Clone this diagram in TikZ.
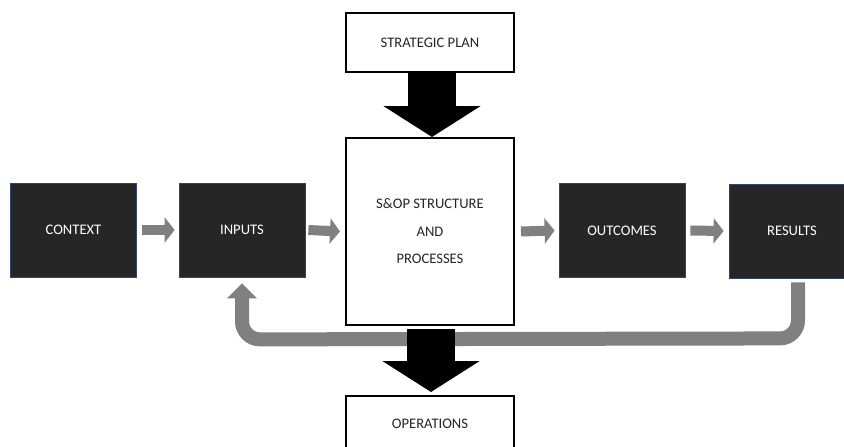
\documentclass[tikz,border=0pt]{standalone}
\usepackage{fontspec}
\setmainfont{Carlito}
\usetikzlibrary{arrows.meta,calc}
\definecolor{boxdark}{HTML}{262626}
\definecolor{boxedge}{HTML}{2F4470}
\definecolor{flowgray}{HTML}{808080}
\begin{document}
\begin{tikzpicture}[x=1pt,y=-1pt,
  every node/.style={font=\fontsize{14.6}{27.5}\selectfont, inner sep=0pt},
  darkbox/.style={rectangle, fill=boxdark, draw=boxedge, line width=0.8pt,
    text=white, minimum width=126pt, minimum height=94pt},
  whitebox/.style={rectangle, fill=white, draw=black, line width=2pt,
    text=black!85, minimum width=168pt, align=center},
  grayarrow/.style={draw=flowgray, line width=10pt,
    -{Triangle[width=25pt,length=10pt]}},
  blackarrow/.style={draw=black, line width=48pt,
    -{Triangle[width=96pt,length=31pt]}},
  feedback/.style={draw=flowgray, line width=14pt, rounded corners=18pt,
    -{Triangle[width=29pt,length=15pt]}}]
\clip (0,0) rectangle (844,447);
\fill[white] (0,0) rectangle (844,447);

% main row of boxes
\node[darkbox] (context)  at (73.5,230) {CONTEXT};
\node[darkbox] (inputs)   at (242,230)  {INPUTS};
\node[whitebox, minimum height=187pt] (sop) at (430,231.5)
  {S\&OP STRUCTURE\\AND\\PROCESSES};
\node[darkbox] (outcomes) at (622,230.5) {OUTCOMES};
\node[darkbox] (results)  at (792,231)  {RESULTS};

% plan above, operations below
\node[whitebox, minimum height=59pt] (plan) at (430,42.5) {STRATEGIC PLAN};
\node[whitebox, minimum height=56pt] (ops)  at (430,424) {OPERATIONS};

% forward flow
\draw[grayarrow] ($(context.east)+(5,0)$)  -- ($(inputs.west)+(-4,0)$);
\draw[grayarrow] ($(inputs.east)+(3,0)$)   -- ($(sop.west)+(-5,0)$);
\draw[grayarrow] ($(sop.east)+(6,0)$)      -- ($(outcomes.west)+(-4,0)$);
\draw[grayarrow] ($(outcomes.east)+(5,0)$) -- ($(results.west)+(-5,0)$);

% feedback loop from results back to inputs
\coordinate (fbstart) at ($(results.south)+(6,4)$);
\coordinate (fbend)   at ($(inputs.south)+(0,6)$);
\draw[feedback] (fbstart) -- ($(fbstart)+(0,56)$) -- ($(fbend)+(0,56)$) -- (fbend);

% plan drives the process, process drives operations
\draw[blackarrow] ($(plan.south)+(2,-1)$) -- ($(sop.north)+(2,0)$);
\draw[blackarrow] ($(sop.south)+(1,3)$)   -- ($(ops.north)+(1,-3)$);
\end{tikzpicture}
\end{document}
